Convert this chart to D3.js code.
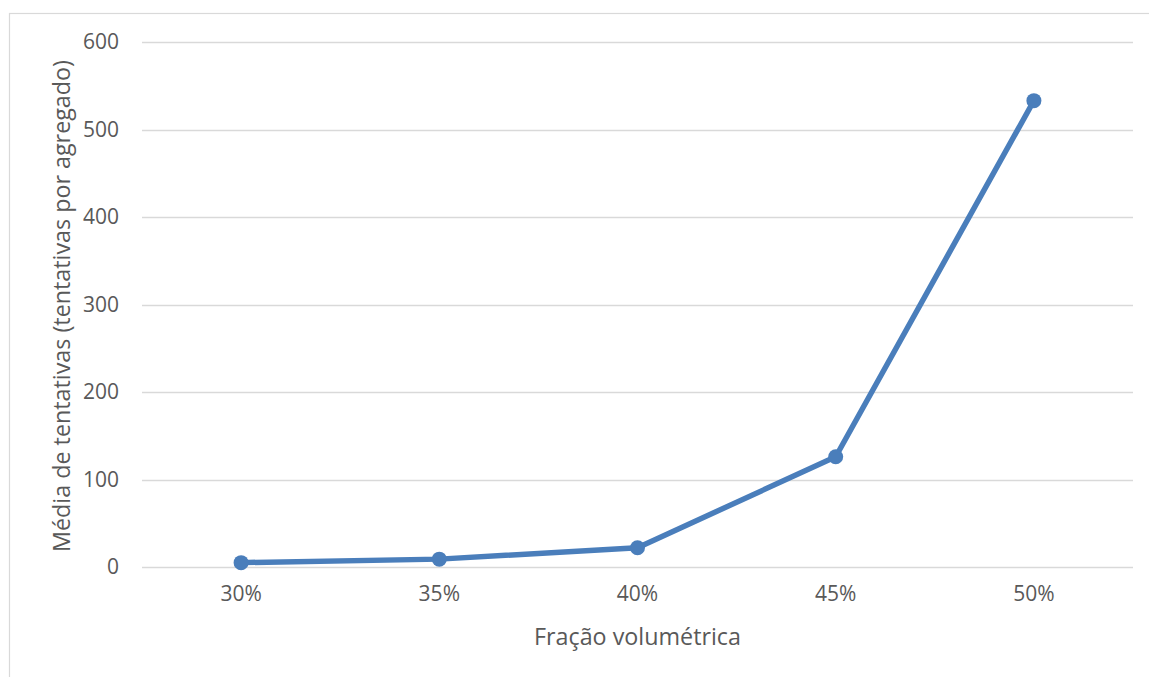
<!DOCTYPE html>
<html>
<head>
<meta charset="utf-8">
<script src="https://cdn.jsdelivr.net/npm/d3@7"></script>
<style>
  html, body { margin: 0; padding: 0; background: #fff; }
  svg { display: block; }
</style>
</head>
<body>
<svg id="chart" width="1149" height="677"></svg>
<script>
// Average attempts per aggregate by volume fraction
const categories = ["30%", "35%", "40%", "45%", "50%"];
const attempts = [5, 9, 22, 126, 533];
const yTicks = [0, 100, 200, 300, 400, 500, 600];

const width = 1149, height = 677;
const margin = { left: 142, right: 16, top: 42, bottom: 110 };
const font = "'Open Sans', sans-serif";
const textColor = "#595959";
const gridColor = "#d9d9d9";
const lineColor = "#4a7ebb";

const svg = d3.select("#chart");

// chart area border
svg.append("rect")
  .attr("x", 9.5).attr("y", 13.5)
  .attr("width", 1160).attr("height", 700)
  .attr("fill", "none")
  .attr("stroke", gridColor)
  .attr("stroke-width", 1.2);

const x = d3.scaleBand()
  .domain(categories)
  .range([margin.left, width - margin.right]);

const y = d3.scaleLinear()
  .domain([0, 600])
  .range([567, 42]);

// horizontal gridlines
svg.append("g")
  .selectAll("line")
  .data(yTicks)
  .join("line")
  .attr("x1", margin.left).attr("x2", width - margin.right)
  .attr("y1", d => Math.round(y(d)) + 0.5).attr("y2", d => Math.round(y(d)) + 0.5)
  .attr("stroke", gridColor)
  .attr("stroke-width", 1.5);

// y axis labels
const yAxis = d3.axisLeft(y).tickValues(yTicks).tickSize(0).tickPadding(0);
const gy = svg.append("g")
  .attr("transform", `translate(${margin.left - 23},0)`)
  .call(yAxis);
gy.select(".domain").remove();
gy.selectAll("text")
  .attr("font-family", font)
  .attr("font-size", 21)
  .attr("fill", textColor);

// x axis labels
const xAxis = d3.axisBottom(x).tickSize(0).tickPadding(0);
const gx = svg.append("g")
  .attr("transform", `translate(0,${586})`)
  .call(xAxis);
gx.select(".domain").remove();
gx.selectAll("text")
  .attr("font-family", font)
  .attr("font-size", 21)
  .attr("fill", textColor);

// axis titles
svg.append("text")
  .attr("x", (margin.left + width - margin.right) / 2)
  .attr("y", 645)
  .attr("text-anchor", "middle")
  .attr("font-family", font)
  .attr("font-size", 23.3)
  .attr("fill", textColor)
  .text("Fração volumétrica");

svg.append("text")
  .attr("transform", `translate(70,${306}) rotate(-90)`)
  .attr("text-anchor", "middle")
  .attr("font-family", font)
  .attr("font-size", 23.3)
  .attr("fill", textColor)
  .text("Média de tentativas (tentativas por agregado)");

// series line and markers
const cx = d => x(d) + x.bandwidth() / 2;
const data = categories.map((c, i) => ({ c, v: attempts[i] }));

svg.append("path")
  .datum(data)
  .attr("fill", "none")
  .attr("stroke", lineColor)
  .attr("stroke-width", 5.5)
  .attr("stroke-linejoin", "round")
  .attr("stroke-linecap", "round")
  .attr("d", d3.line().x(d => cx(d.c)).y(d => y(d.v)));

svg.append("g")
  .selectAll("circle")
  .data(data)
  .join("circle")
  .attr("cx", d => cx(d.c))
  .attr("cy", d => y(d.v))
  .attr("r", 7.5)
  .attr("fill", lineColor);
</script>
</body>
</html>
